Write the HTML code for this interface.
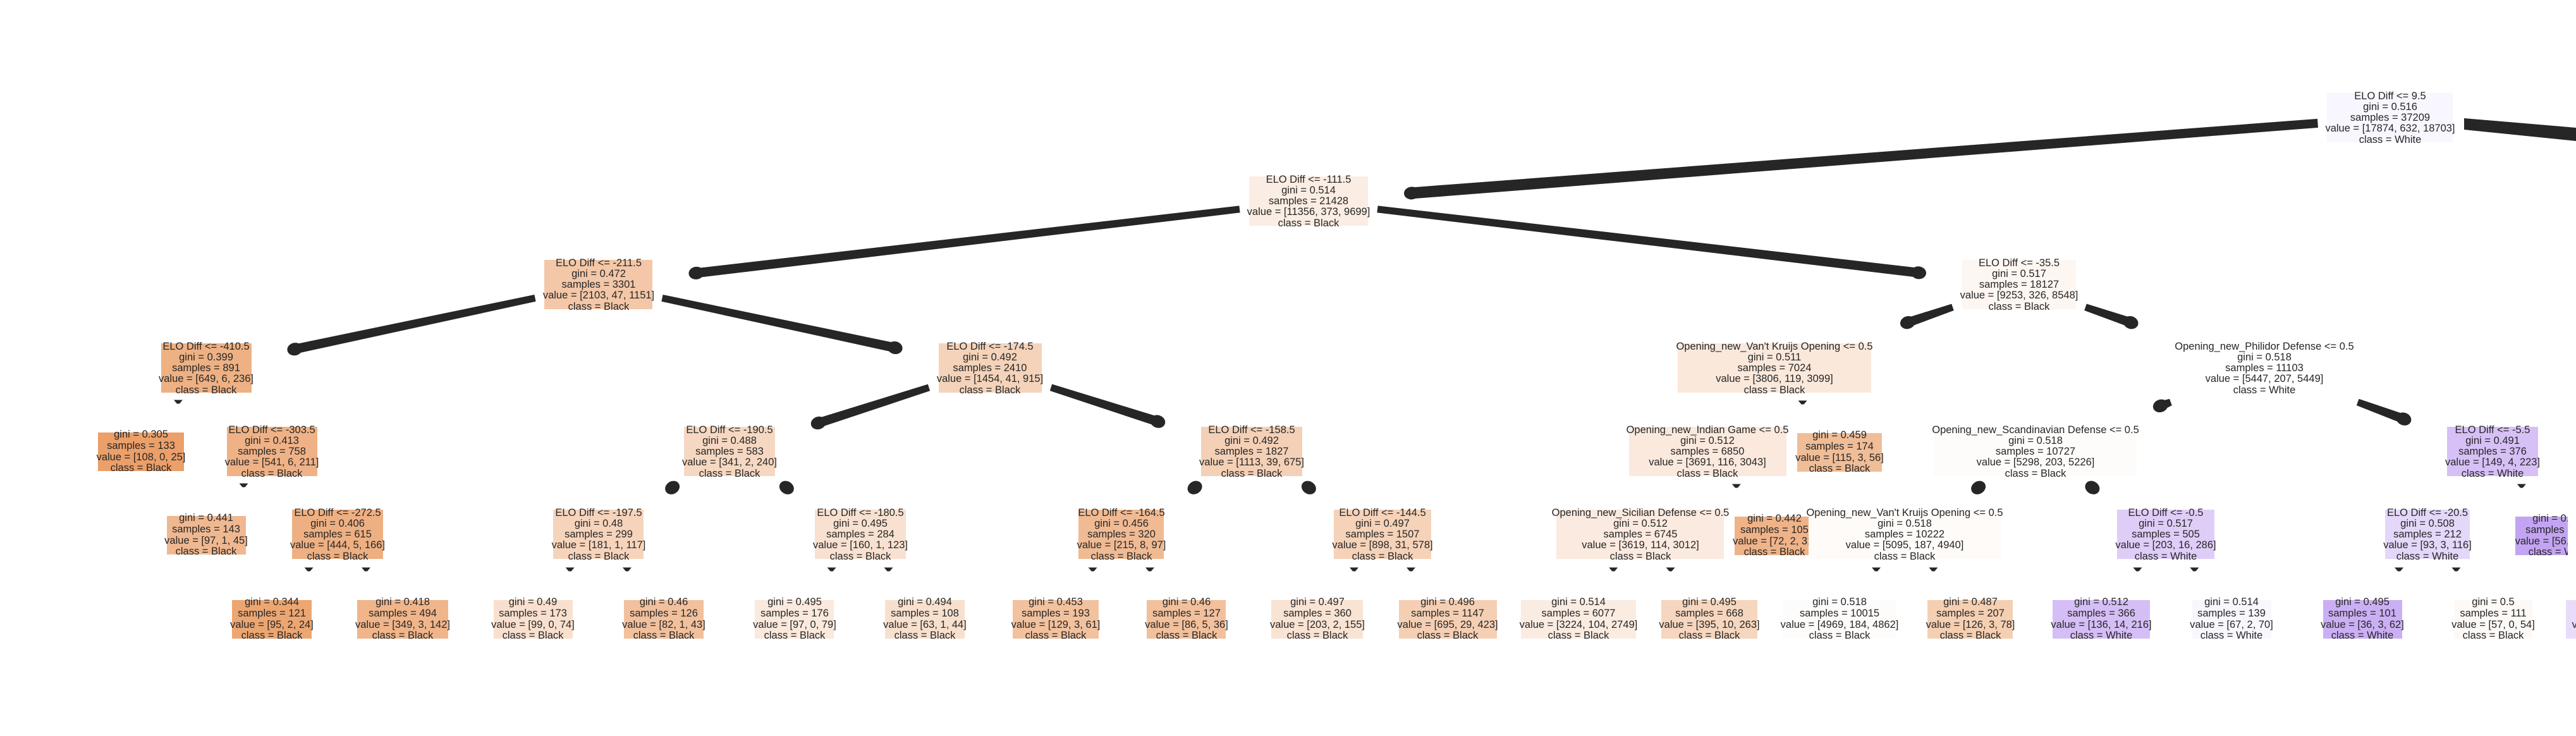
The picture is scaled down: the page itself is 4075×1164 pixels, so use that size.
<!DOCTYPE html>
<html><head><meta charset="utf-8"><style>
html,body{margin:0;padding:0;background:#fff;}
svg{display:block;}
text{font-family:"Liberation Sans",Arial,sans-serif;font-size:16.5px;fill:#262626;text-anchor:middle;}
</style></head><body>
<svg id="s" width="4075" height="1164" viewBox="0 0 4075 1164" xmlns="http://www.w3.org/2000/svg">
<rect width="4075" height="1164" fill="#fff"/>
<g id="edges" fill="#262626" stroke="none">
<polygon points="3898,187 4075,202 4075,223 3898,205"/>
</g>
<g id="nodes">
<rect x="3681" y="147" width="199" height="78" fill="#f8f6fe"/>
<text x="3781" y="157">ELO Diff &lt;= 9.5</text><text x="3781" y="174">gini = 0.516</text><text x="3781" y="191">samples = 37209</text><text x="3781" y="208">value = [17874, 632, 18703]</text><text x="3781" y="226">class = White</text>
<rect x="1976" y="279" width="188" height="78" fill="#fbede3"/>
<text x="2070" y="289">ELO Diff &lt;= -111.5</text><text x="2070" y="306">gini = 0.514</text><text x="2070" y="323">samples = 21428</text><text x="2070" y="340">value = [11356, 373, 9699]</text><text x="2070" y="358">class = Black</text>
<rect x="861" y="411" width="171" height="78" fill="#f3c7a7"/>
<text x="947" y="421">ELO Diff &lt;= -211.5</text><text x="947" y="438">gini = 0.472</text><text x="947" y="455">samples = 3301</text><text x="947" y="472">value = [2103, 47, 1151]</text><text x="947" y="490">class = Black</text>
<rect x="255" y="543" width="143" height="78" fill="#eeb183"/>
<text x="326" y="553">ELO Diff &lt;= -410.5</text><text x="326" y="570">gini = 0.399</text><text x="326" y="587">samples = 891</text><text x="326" y="604">value = [649, 6, 236]</text><text x="326" y="622">class = Black</text>
<rect x="155" y="684" width="136" height="61" fill="#eb9f69"/>
<text x="223" y="692">gini = 0.305</text><text x="223" y="710">samples = 133</text><text x="223" y="728">value = [108, 0, 25]</text><text x="223" y="745">class = Black</text>
<rect x="359" y="675" width="143" height="78" fill="#efb286"/>
<text x="430" y="685">ELO Diff &lt;= -303.5</text><text x="430" y="702">gini = 0.413</text><text x="430" y="719">samples = 758</text><text x="430" y="736">value = [541, 6, 211]</text><text x="430" y="754">class = Black</text>
<rect x="264" y="816" width="125" height="61" fill="#f0b890"/>
<text x="326" y="824">gini = 0.441</text><text x="326" y="842">samples = 143</text><text x="326" y="860">value = [97, 1, 45]</text><text x="326" y="877">class = Black</text>
<rect x="462" y="806" width="144" height="78" fill="#eeb082"/>
<text x="534" y="816">ELO Diff &lt;= -272.5</text><text x="534" y="833">gini = 0.406</text><text x="534" y="850">samples = 615</text><text x="534" y="867">value = [444, 5, 166]</text><text x="534" y="885">class = Black</text>
<rect x="367" y="949" width="126" height="61" fill="#eca672"/>
<text x="430" y="957">gini = 0.344</text><text x="430" y="975">samples = 121</text><text x="430" y="993">value = [95, 2, 24]</text><text x="430" y="1010">class = Black</text>
<rect x="565" y="949" width="144" height="61" fill="#f0b58a"/>
<text x="637" y="957">gini = 0.418</text><text x="637" y="975">samples = 494</text><text x="637" y="993">value = [349, 3, 142]</text><text x="637" y="1010">class = Black</text>
<rect x="1485" y="543" width="163" height="78" fill="#f4d3ba"/>
<text x="1566" y="553">ELO Diff &lt;= -174.5</text><text x="1566" y="570">gini = 0.492</text><text x="1566" y="587">samples = 2410</text><text x="1566" y="604">value = [1454, 41, 915]</text><text x="1566" y="622">class = Black</text>
<rect x="1082" y="675" width="144" height="78" fill="#f6d8c2"/>
<text x="1154" y="685">ELO Diff &lt;= -190.5</text><text x="1154" y="702">gini = 0.488</text><text x="1154" y="719">samples = 583</text><text x="1154" y="736">value = [341, 2, 240]</text><text x="1154" y="754">class = Black</text>
<rect x="875" y="806" width="143" height="78" fill="#f6d4bc"/>
<text x="947" y="816">ELO Diff &lt;= -197.5</text><text x="947" y="833">gini = 0.48</text><text x="947" y="850">samples = 299</text><text x="947" y="867">value = [181, 1, 117]</text><text x="947" y="885">class = Black</text>
<rect x="781" y="949" width="125" height="61" fill="#f9e0ce"/>
<text x="843" y="957">gini = 0.49</text><text x="843" y="975">samples = 173</text><text x="843" y="993">value = [99, 0, 74]</text><text x="843" y="1010">class = Black</text>
<rect x="987" y="949" width="126" height="61" fill="#f2c09c"/>
<text x="1050" y="957">gini = 0.46</text><text x="1050" y="975">samples = 126</text><text x="1050" y="993">value = [82, 1, 43]</text><text x="1050" y="1010">class = Black</text>
<rect x="1289" y="806" width="144" height="78" fill="#f8e1d0"/>
<text x="1361" y="816">ELO Diff &lt;= -180.5</text><text x="1361" y="833">gini = 0.495</text><text x="1361" y="850">samples = 284</text><text x="1361" y="867">value = [160, 1, 123]</text><text x="1361" y="885">class = Black</text>
<rect x="1194" y="949" width="125" height="61" fill="#fae9dc"/>
<text x="1257" y="957">gini = 0.495</text><text x="1257" y="975">samples = 176</text><text x="1257" y="993">value = [97, 0, 79]</text><text x="1257" y="1010">class = Black</text>
<rect x="1400" y="949" width="126" height="61" fill="#f8e0ce"/>
<text x="1463" y="957">gini = 0.494</text><text x="1463" y="975">samples = 108</text><text x="1463" y="993">value = [63, 1, 44]</text><text x="1463" y="1010">class = Black</text>
<rect x="1900" y="675" width="160" height="78" fill="#f4d0b6"/>
<text x="1980" y="685">ELO Diff &lt;= -158.5</text><text x="1980" y="702">gini = 0.492</text><text x="1980" y="719">samples = 1827</text><text x="1980" y="736">value = [1113, 39, 675]</text><text x="1980" y="754">class = Black</text>
<rect x="1706" y="806" width="135" height="78" fill="#f0ba93"/>
<text x="1774" y="816">ELO Diff &lt;= -164.5</text><text x="1774" y="833">gini = 0.456</text><text x="1774" y="850">samples = 320</text><text x="1774" y="867">value = [215, 8, 97]</text><text x="1774" y="885">class = Black</text>
<rect x="1602" y="949" width="136" height="61" fill="#f2c19e"/>
<text x="1670" y="957">gini = 0.453</text><text x="1670" y="975">samples = 193</text><text x="1670" y="993">value = [129, 3, 61]</text><text x="1670" y="1010">class = Black</text>
<rect x="1814" y="949" width="125" height="61" fill="#f2c09c"/>
<text x="1877" y="957">gini = 0.46</text><text x="1877" y="975">samples = 127</text><text x="1877" y="993">value = [86, 5, 36]</text><text x="1877" y="1010">class = Black</text>
<rect x="2110" y="806" width="154" height="78" fill="#f5d2b8"/>
<text x="2187" y="816">ELO Diff &lt;= -144.5</text><text x="2187" y="833">gini = 0.497</text><text x="2187" y="850">samples = 1507</text><text x="2187" y="867">value = [898, 31, 578]</text><text x="2187" y="885">class = Black</text>
<rect x="2011" y="949" width="145" height="61" fill="#f9e3d3"/>
<text x="2084" y="957">gini = 0.497</text><text x="2084" y="975">samples = 360</text><text x="2084" y="993">value = [203, 2, 155]</text><text x="2084" y="1010">class = Black</text>
<rect x="2213" y="949" width="155" height="61" fill="#f5cfb3"/>
<text x="2290" y="957">gini = 0.496</text><text x="2290" y="975">samples = 1147</text><text x="2290" y="993">value = [695, 29, 423]</text><text x="2290" y="1010">class = Black</text>
<rect x="3104" y="411" width="180" height="78" fill="#fdf6f1"/>
<text x="3194" y="421">ELO Diff &lt;= -35.5</text><text x="3194" y="438">gini = 0.517</text><text x="3194" y="455">samples = 18127</text><text x="3194" y="472">value = [9253, 326, 8548]</text><text x="3194" y="490">class = Black</text>
<rect x="2654" y="543" width="306" height="78" fill="#fae8db"/>
<text x="2807" y="553">Opening_new_Van't Kruijs Opening &lt;= 0.5</text><text x="2807" y="570">gini = 0.511</text><text x="2807" y="587">samples = 7024</text><text x="2807" y="604">value = [3806, 119, 3099]</text><text x="2807" y="622">class = Black</text>
<rect x="2577" y="675" width="249" height="78" fill="#fbe9dd"/>
<text x="2701" y="685">Opening_new_Indian Game &lt;= 0.5</text><text x="2701" y="702">gini = 0.512</text><text x="2701" y="719">samples = 6850</text><text x="2701" y="736">value = [3691, 116, 3043]</text><text x="2701" y="754">class = Black</text>
<rect x="2462" y="806" width="265" height="78" fill="#fbeadf"/>
<text x="2595" y="816">Opening_new_Sicilian Defense &lt;= 0.5</text><text x="2595" y="833">gini = 0.512</text><text x="2595" y="850">samples = 6745</text><text x="2595" y="867">value = [3619, 114, 3012]</text><text x="2595" y="885">class = Black</text>
<rect x="2406" y="949" width="182" height="61" fill="#fbece2"/>
<text x="2497" y="957">gini = 0.514</text><text x="2497" y="975">samples = 6077</text><text x="2497" y="993">value = [3224, 104, 2749]</text><text x="2497" y="1010">class = Black</text>
<rect x="2628" y="949" width="152" height="61" fill="#f6d6be"/>
<text x="2704" y="957">gini = 0.495</text><text x="2704" y="975">samples = 668</text><text x="2704" y="993">value = [395, 10, 263]</text><text x="2704" y="1010">class = Black</text>
<rect x="2744" y="817" width="126" height="61" fill="#efb388"/>
<text x="2807" y="825">gini = 0.442</text><text x="2807" y="843">samples = 105</text><text x="2807" y="861">value = [72, 2, 31]</text><text x="2807" y="878">class = Black</text>
<rect x="2843" y="685" width="134" height="61" fill="#f0bd97"/>
<text x="2910" y="693">gini = 0.459</text><text x="2910" y="711">samples = 174</text><text x="2910" y="729">value = [115, 3, 56]</text><text x="2910" y="746">class = Black</text>
<rect x="3437" y="543" width="290" height="78" fill="#ffffff"/>
<text x="3582" y="553">Opening_new_Philidor Defense &lt;= 0.5</text><text x="3582" y="570">gini = 0.518</text><text x="3582" y="587">samples = 11103</text><text x="3582" y="604">value = [5447, 207, 5449]</text><text x="3582" y="622">class = White</text>
<rect x="3059" y="675" width="321" height="78" fill="#fefcfa"/>
<text x="3220" y="685">Opening_new_Scandinavian Defense &lt;= 0.5</text><text x="3220" y="702">gini = 0.518</text><text x="3220" y="719">samples = 10727</text><text x="3220" y="736">value = [5298, 203, 5226]</text><text x="3220" y="754">class = Black</text>
<rect x="2861" y="806" width="304" height="78" fill="#fefbf8"/>
<text x="3013" y="816">Opening_new_Van't Kruijs Opening &lt;= 0.5</text><text x="3013" y="833">gini = 0.518</text><text x="3013" y="850">samples = 10222</text><text x="3013" y="867">value = [5095, 187, 4940]</text><text x="3013" y="885">class = Black</text>
<rect x="2820" y="949" width="180" height="61" fill="#fefcfb"/>
<text x="2910" y="957">gini = 0.518</text><text x="2910" y="975">samples = 10015</text><text x="2910" y="993">value = [4969, 184, 4862]</text><text x="2910" y="1010">class = Black</text>
<rect x="3049" y="949" width="135" height="61" fill="#f5cfb2"/>
<text x="3117" y="957">gini = 0.487</text><text x="3117" y="975">samples = 207</text><text x="3117" y="993">value = [126, 3, 78]</text><text x="3117" y="1010">class = Black</text>
<rect x="3349" y="806" width="154" height="78" fill="#dfcdf8"/>
<text x="3426" y="816">ELO Diff &lt;= -0.5</text><text x="3426" y="833">gini = 0.517</text><text x="3426" y="850">samples = 505</text><text x="3426" y="867">value = [203, 16, 286]</text><text x="3426" y="885">class = White</text>
<rect x="3247" y="949" width="154" height="61" fill="#d5bef6"/>
<text x="3324" y="957">gini = 0.512</text><text x="3324" y="975">samples = 366</text><text x="3324" y="993">value = [136, 14, 216]</text><text x="3324" y="1010">class = White</text>
<rect x="3468" y="949" width="125" height="61" fill="#f9f7fe"/>
<text x="3530" y="957">gini = 0.514</text><text x="3530" y="975">samples = 139</text><text x="3530" y="993">value = [67, 2, 70]</text><text x="3530" y="1010">class = White</text>
<rect x="3871" y="675" width="144" height="78" fill="#d6c0f6"/>
<text x="3943" y="685">ELO Diff &lt;= -5.5</text><text x="3943" y="702">gini = 0.491</text><text x="3943" y="719">samples = 376</text><text x="3943" y="736">value = [149, 4, 223]</text><text x="3943" y="754">class = White</text>
<rect x="3773" y="806" width="134" height="78" fill="#e4d7f9"/>
<text x="3840" y="816">ELO Diff &lt;= -20.5</text><text x="3840" y="833">gini = 0.508</text><text x="3840" y="850">samples = 212</text><text x="3840" y="867">value = [93, 3, 116]</text><text x="3840" y="885">class = White</text>
<rect x="3675" y="949" width="125" height="61" fill="#cbaff4"/>
<text x="3737" y="957">gini = 0.495</text><text x="3737" y="975">samples = 101</text><text x="3737" y="993">value = [36, 3, 62]</text><text x="3737" y="1010">class = White</text>
<rect x="3882" y="949" width="124" height="61" fill="#fdf9f6"/>
<text x="3944" y="957">gini = 0.5</text><text x="3944" y="975">samples = 111</text><text x="3944" y="993">value = [57, 0, 54]</text><text x="3944" y="1010">class = Black</text>
<rect x="3979" y="817" width="140" height="61" fill="#c3a4f2"/>
<text x="4049" y="825">gini = 0.458</text><text x="4049" y="843">samples = 164</text><text x="4049" y="861">value = [56, 1, 107]</text><text x="4049" y="878">class = White</text>
<rect x="4062" y="805" width="13" height="80" fill="#fff"/>
<rect x="4059" y="949" width="160" height="61" fill="#e9dcfa"/>
<text x="4139" y="957">gini = 0.459</text><text x="4139" y="975">samples = 275</text><text x="4139" y="993">value = [93, 3, 179]</text><text x="4139" y="1010">class = White</text>
</g>
</svg>
<script>
(function(){
var B={
0:[3781,186,199,78],1:[2070,318,188,78],2:[947,450,171,78],3:[326,582,143,78],4:[223,714,136,61],5:[430,714,143,78],
6:[326,846,125,61],7:[534,845,144,78],8:[430,979,126,61],9:[637,979,144,61],10:[1566,582,163,78],11:[1154,714,144,78],
12:[947,845,143,78],13:[843,979,125,61],14:[1050,979,126,61],15:[1361,845,144,78],16:[1257,979,125,61],17:[1463,979,126,61],
18:[1980,714,160,78],19:[1774,845,135,78],20:[1670,979,136,61],21:[1877,979,125,61],22:[2187,845,154,78],23:[2084,979,145,61],
24:[2290,979,155,61],25:[3194,450,180,78],26:[2807,582,306,78],27:[2701,714,249,78],28:[2595,845,265,78],29:[2497,979,182,61],
30:[2704,979,152,61],31:[2807,847,126,61],32:[2910,715,134,61],33:[3582,582,290,78],34:[3220,714,321,78],35:[3013,845,304,78],
36:[2910,979,180,61],37:[3117,979,135,61],38:[3426,845,154,78],39:[3324,979,154,61],40:[3530,979,125,61],41:[3943,714,144,78],
42:[3840,845,134,78],43:[3737,979,125,61],44:[3944,979,124,61],45:[4049,847,140,61]};
var E=[[0,1,'b'],[1,2,'b'],[2,3,'b'],[3,4,'t'],[3,5,'n'],[5,6,'t'],[5,7,'n'],[7,8,'t'],[7,9,'t'],[2,10,'b'],[10,11,'b'],
[11,12,'b'],[12,13,'t'],[12,14,'t'],[11,15,'b'],[15,16,'t'],[15,17,'t'],[10,18,'b'],[18,19,'b'],[19,20,'t'],[19,21,'t'],
[18,22,'b'],[22,23,'t'],[22,24,'t'],[1,25,'b'],[25,26,'b'],[26,27,'n'],[27,28,'n'],[28,29,'t'],[28,30,'t'],[27,31,'t'],
[26,32,'t'],[25,33,'b'],[33,34,'b'],[34,35,'b'],[35,36,'t'],[35,37,'t'],[34,38,'b'],[38,39,'t'],[38,40,'t'],[33,41,'b'],
[41,42,'n'],[42,43,'t'],[42,44,'t'],[41,45,'t']];
var g=document.getElementById('edges'),NS='http://www.w3.org/2000/svg';
function el(t,a){var e=document.createElementNS(NS,t);for(var k in a)e.setAttribute(k,a[k]);g.appendChild(e);}
E.forEach(function(e){
 if(e[2]=='n')return;
 var p=B[e[0]],c=B[e[1]],leaf=c[3]<70;
 var dx=c[0]-p[0],dy=c[1]-p[1],L=Math.sqrt(dx*dx+dy*dy),ux=dx/L,uy=dy/L,nx=-uy,ny=ux;
 var t1=Math.min((p[2]/2+15)/Math.abs(dx||1e-9),(p[3]/2+15)/Math.abs(dy||1e-9));
 var hx=c[2]/2+60,hy=c[3]/2+(leaf?45:30);
 var t2=Math.min(hx/Math.abs(dx||1e-9),hy/Math.abs(dy||1e-9));
 var sx=p[0]+t1*dx,sy=p[1]+t1*dy,ex=c[0]-t2*dx,ey=c[1]-t2*dy;
 if(e[2]=='t'){
  el('polygon',{points:[ex-7,ey-6,ex+7,ey-6,ex+2,ey,ex-2,ey].join(',')});
  return;
 }
 var bx=ex-9*ux,by=ey-9*uy;
 var w0=e[0]==0?9:7.5;
 if(t1<1-t2-0.01){
  el('polygon',{points:[sx+(w0-2)*nx,sy+(w0-2)*ny,bx+w0*nx,by+w0*ny,bx-w0*nx,by-w0*ny,sx-(w0-2)*nx,sy-(w0-2)*ny].join(',')});
 }
 var ang=Math.atan2(uy,ux)*180/Math.PI;
 el('ellipse',{cx:bx,cy:by,rx:12,ry:10,transform:'rotate('+ang+' '+bx+' '+by+')'});
});
})();
</script>
</body></html>
